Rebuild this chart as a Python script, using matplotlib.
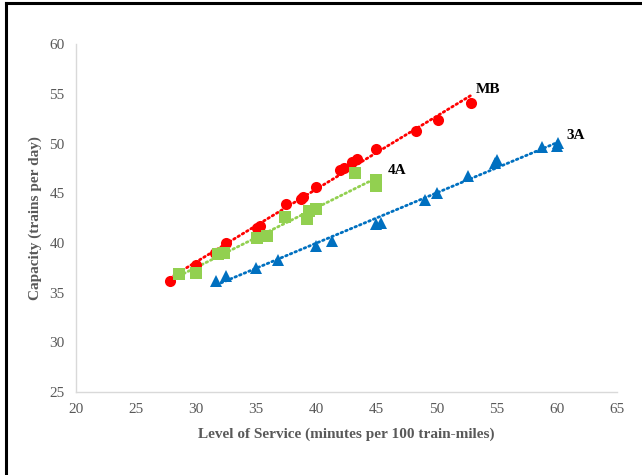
import numpy as np
import matplotlib.pyplot as plt
from matplotlib.lines import Line2D

plt.rcParams['font.family'] = ['Liberation Serif', 'DejaVu Serif']

# MB line
mb_x = [27.8, 30.0, 31.6, 32.5, 35.1, 35.3, 37.5, 38.7, 38.9, 40.0, 42.0, 42.3, 43.0, 43.4, 45.0, 48.3, 50.1, 52.9]
mb_y = [36.2, 37.8, 39.0, 40.0, 41.5, 41.7, 43.9, 44.4, 44.6, 45.6, 47.3, 47.5, 48.1, 48.4, 49.4, 51.3, 52.4, 54.1]

# 4A line
a4_x = [28.6, 30.0, 31.8, 32.3, 35.1, 35.9, 37.4, 39.2, 39.4, 40.0, 43.2, 45.0, 45.0]
a4_y = [36.9, 37.0, 38.9, 39.0, 40.5, 40.7, 42.6, 42.4, 43.2, 43.4, 47.0, 45.7, 46.3]

# 3A line
a3_x = [31.7, 32.5, 35.0, 36.8, 40.0, 41.3, 45.0, 45.4, 49.0, 50.0, 52.6, 54.9, 55.0, 58.8, 60.0, 60.1]
a3_y = [36.2, 36.7, 37.5, 38.3, 39.7, 40.2, 41.9, 42.0, 44.3, 45.0, 46.7, 48.0, 48.3, 49.6, 49.7, 50.1]

series = [
    (mb_x, mb_y, '#FF0000', 'o', 8, 'MB'),
    (a4_x, a4_y, '#92D050', 's', 8, '4A'),
    (a3_x, a3_y, '#0070C0', '^', 8.5, '3A'),
]

fig = plt.figure(figsize=(6.42, 4.75), dpi=100)
ax = fig.add_axes([0.118, 0.175, 0.843, 0.732])

for xs, ys, col, mk, ms, name in series:
    xs = np.array(xs)
    ys = np.array(ys)
    # linear trendline over the data range
    k, b = np.polyfit(xs, ys, 1)
    xt = np.array([xs.min(), xs.max()])
    ax.plot(xt, k * xt + b, color=col, lw=2, linestyle=(0, (0.6, 1.2)),
            dash_capstyle='round', zorder=2)
    ax.plot(xs, ys, linestyle='none', marker=mk, ms=ms, color=col,
            markeredgewidth=0, zorder=3)

ax.text(53.3, 55.4, 'MB', fontsize=11, fontweight='bold', ha='left', va='center')
ax.text(45.9, 47.3, '4A', fontsize=11, fontweight='bold', ha='left', va='center')
ax.text(60.8, 50.8, '3A', fontsize=11, fontweight='bold', ha='left', va='center')

ax.set_xlim(20, 65)
ax.set_ylim(25, 60)
ax.set_xticks(range(20, 66, 5))
ax.set_yticks(range(25, 61, 5))
ax.tick_params(length=0, labelsize=11, labelcolor='#595959', pad=8)
for s in ['top', 'right']:
    ax.spines[s].set_visible(False)
for s in ['left', 'bottom']:
    ax.spines[s].set_color('#D9D9D9')
    ax.spines[s].set_linewidth(1)

ax.set_xlabel('Level of Service (minutes per 100 train-miles)', fontsize=11,
              fontweight='bold', color='#595959', labelpad=8)
ax.set_ylabel('Capacity (trains per day)', fontsize=11, fontweight='bold',
              color='#595959', labelpad=5)

# frame around the figure (left and top edges)
fig.add_artist(Line2D([0.009, 0.009], [0, 0.993], transform=fig.transFigure,
                      color='black', lw=2.2))
fig.add_artist(Line2D([0.009, 1.0], [0.993, 0.993], transform=fig.transFigure,
                      color='black', lw=2.2))

fig.savefig('out.png', dpi=100)
